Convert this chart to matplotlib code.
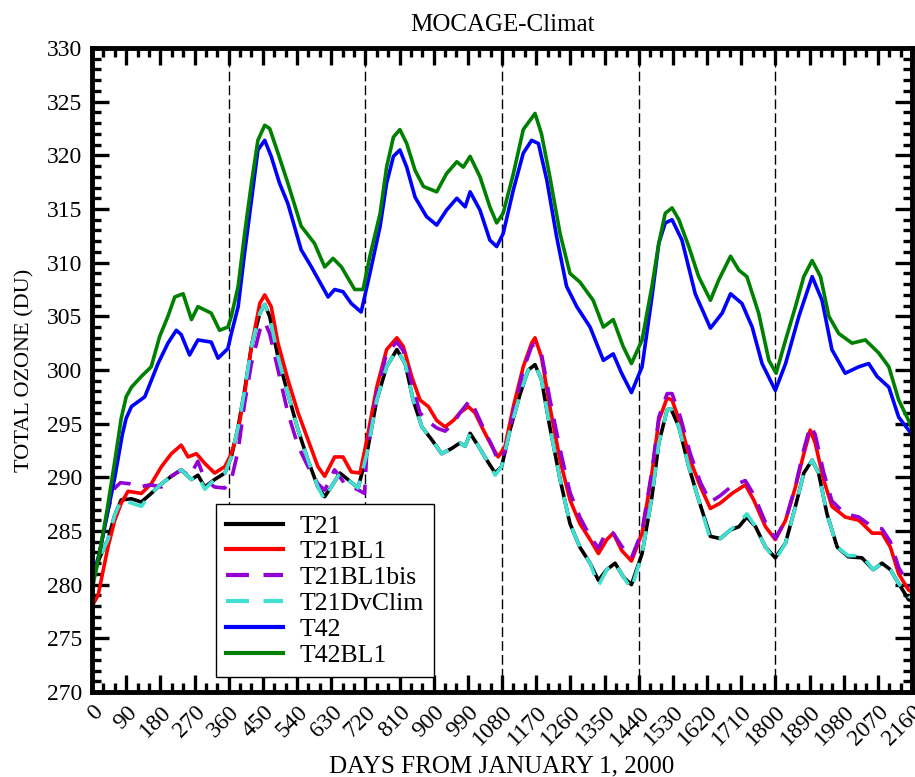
import matplotlib
matplotlib.use("Agg")
from matplotlib import pyplot as plt
from matplotlib.ticker import MultipleLocator

plt.rcParams['font.family'] = ['Liberation Serif', 'DejaVu Serif']

# T42BL1 (vert)
t42bl1_days = [0, 20, 40, 60, 77, 90, 104, 130, 156, 178, 200, 218, 240, 262, 279, 314, 336, 358, 367, 385,
               402, 420, 437, 455, 468, 490, 516, 551, 586, 613, 635, 657, 692, 714, 732, 759, 776, 794, 811,
               829, 851, 873, 908, 934, 961, 978, 996, 1022, 1048, 1066, 1083, 1110, 1136, 1167, 1184, 1206,
               1233, 1259, 1285, 1320, 1347, 1373, 1399, 1421, 1449, 1475, 1493, 1510, 1528, 1546, 1572, 1598,
               1629, 1651, 1682, 1704, 1725, 1756, 1783, 1802, 1827, 1853, 1875, 1897, 1919, 1941, 1967, 2002,
               2037, 2072, 2099, 2125, 2151, 2160]
t42bl1_vals = [279.5, 283.0, 287.0, 291.5, 295.5, 297.5, 298.4, 299.4, 300.3, 303.1, 305.0, 306.8, 307.1, 304.7,
               305.9, 305.3, 303.7, 304.0, 305.0, 307.8, 312.7, 317.4, 321.4, 322.8, 322.5, 320.2, 317.4, 313.4,
               311.8, 309.6, 310.4, 309.6, 307.5, 307.5, 310.6, 314.6, 318.9, 321.7, 322.4, 321.1, 318.6, 317.1,
               316.6, 318.3, 319.4, 318.9, 319.9, 318.0, 315.2, 313.7, 314.6, 318.3, 322.4, 323.9, 322.0, 318.0,
               312.7, 309.0, 308.2, 306.5, 304.0, 304.7, 302.2, 300.6, 302.8, 307.8, 311.8, 314.6, 315.1, 314.0,
               311.5, 308.7, 306.5, 308.4, 310.6, 309.3, 308.7, 305.3, 300.9, 299.7, 302.8, 305.9, 308.7, 310.2,
               308.7, 305.0, 303.4, 302.5, 302.8, 301.6, 300.3, 297.2, 295.3, 294.5]

# T42 (bleu)
t42_days = [0, 20, 40, 60, 80, 90, 104, 139, 174, 200, 222, 235, 257, 279, 314, 332, 358, 367, 385, 402, 420,
            437, 455, 472, 494, 516, 551, 578, 622, 639, 661, 683, 709, 732, 759, 776, 794, 811, 829, 851, 881,
            908, 934, 961, 983, 996, 1022, 1048, 1066, 1083, 1110, 1136, 1158, 1176, 1198, 1224, 1250, 1277,
            1312, 1347, 1373, 1395, 1421, 1449, 1475, 1493, 1510, 1528, 1554, 1589, 1629, 1660, 1682, 1712,
            1739, 1765, 1800, 1827, 1862, 1897, 1923, 1949, 1984, 2020, 2046, 2068, 2099, 2125, 2151, 2160]
t42_vals = [280.5, 283.0, 286.5, 290.0, 294.0, 295.5, 296.6, 297.5, 300.6, 302.5, 303.7, 303.3, 301.4, 302.8,
            302.6, 301.1, 302.0, 303.4, 305.9, 310.9, 315.8, 320.5, 321.4, 319.9, 317.4, 315.5, 311.2, 309.6,
            306.8, 307.5, 307.3, 306.2, 305.4, 309.0, 313.4, 317.4, 319.9, 320.5, 318.9, 316.1, 314.3, 313.5,
            314.9, 316.0, 315.2, 316.6, 314.9, 312.1, 311.5, 312.7, 316.8, 320.2, 321.4, 321.1, 317.7, 312.4,
            307.8, 305.9, 304.0, 300.9, 301.5, 299.7, 297.9, 300.3, 306.8, 311.8, 313.7, 314.0, 312.1, 307.1,
            303.9, 305.3, 307.1, 306.2, 304.0, 300.6, 298.1, 300.6, 305.0, 308.7, 306.5, 301.9, 299.7, 300.3,
            300.6, 299.4, 298.4, 295.6, 294.4, 294.0]

# T21BL1 (rouge)
t21bl1_days = [0, 16, 42, 60, 77, 95, 130, 156, 183, 209, 235, 253, 275, 297, 323, 350, 367, 385, 402, 420, 442,
               455, 472, 490, 516, 543, 569, 595, 613, 639, 661, 683, 706, 724, 750, 776, 803, 820, 842, 864, 886,
               908, 930, 952, 969, 991, 1009, 1031, 1053, 1070, 1088, 1110, 1136, 1158, 1167, 1184, 1206, 1233,
               1259, 1285, 1312, 1334, 1356, 1373, 1395, 1421, 1449, 1475, 1493, 1515, 1528, 1550, 1576, 1603,
               1629, 1655, 1686, 1721, 1743, 1774, 1800, 1827, 1853, 1875, 1892, 1905, 1927, 1949, 1984, 2020,
               2055, 2081, 2103, 2125, 2151, 2160]
t21bl1_vals = [278.0, 279.0, 283.5, 286.0, 287.6, 288.7, 288.5, 289.4, 291.0, 292.2, 293.0, 291.9, 292.2, 291.3,
               290.4, 291.0, 292.2, 294.4, 297.8, 302.2, 306.2, 307.0, 305.9, 302.5, 299.1, 296.0, 293.5, 291.0,
               290.1, 291.9, 291.9, 290.5, 290.4, 293.5, 298.4, 301.9, 303.0, 302.2, 299.4, 297.2, 296.6, 295.3,
               294.7, 295.3, 296.0, 296.6, 296.0, 294.4, 292.9, 291.9, 292.9, 296.6, 300.3, 302.5, 303.0, 301.2,
               296.6, 291.6, 287.9, 285.7, 284.2, 282.9, 284.2, 284.8, 283.2, 282.2, 284.8, 290.4, 295.3, 297.4,
               297.2, 295.0, 291.6, 289.1, 287.1, 287.6, 288.5, 289.3, 287.9, 285.4, 284.2, 286.0, 289.1, 292.2,
               294.4, 293.2, 289.8, 287.3, 286.3, 286.0, 284.8, 284.8, 283.5, 281.0, 279.5, 279.3]

# T21BL1bis (violet)
t21bl1bis_days = [0, 20, 42, 60, 75, 99, 126, 152, 183, 209, 235, 257, 279, 297, 323, 350, 367, 385, 402, 420,
                  442, 455, 468, 490, 516, 543, 569, 595, 613, 639, 666, 692, 718, 724, 750, 776, 803, 820, 842,
                  864, 886, 908, 930, 952, 969, 996, 1009, 1031, 1053, 1070, 1088, 1110, 1136, 1158, 1167, 1184,
                  1206, 1233, 1259, 1285, 1312, 1334, 1356, 1373, 1395, 1421, 1449, 1475, 1493, 1515, 1528, 1550,
                  1576, 1603, 1629, 1655, 1686, 1721, 1743, 1774, 1800, 1827, 1853, 1875, 1892, 1905, 1927, 1949,
                  1984, 2020, 2055, 2081, 2103, 2125, 2151, 2160]
t21bl1bis_vals = [280.0, 283.0, 287.0, 289.0, 289.5, 289.4, 289.1, 289.3, 289.1, 290.1, 290.7, 290.1, 291.5,
                  289.8, 289.1, 289.0, 289.8, 292.5, 296.9, 300.6, 303.7, 304.5, 303.4, 300.0, 296.0, 292.9, 291.0,
                  289.4, 288.8, 290.7, 289.4, 289.0, 288.5, 292.5, 297.8, 301.6, 302.6, 301.8, 298.8, 296.0, 295.2,
                  294.6, 294.3, 295.0, 296.0, 297.2, 296.3, 294.6, 293.0, 291.5, 292.4, 296.0, 300.0, 302.2, 302.4,
                  301.5, 297.3, 292.6, 288.6, 286.3, 284.5, 283.4, 285.0, 284.8, 283.6, 282.5, 285.0, 290.6, 295.6,
                  297.8, 297.8, 295.6, 292.2, 289.5, 287.7, 288.3, 289.2, 289.7, 288.4, 285.8, 284.3, 286.0, 289.2,
                  292.6, 294.8, 294.0, 290.5, 287.8, 286.6, 286.3, 285.4, 285.2, 284.0, 281.6, 280.0, 279.8]

# T21 (noir)
t21_days = [0, 20, 42, 60, 77, 104, 130, 156, 183, 209, 235, 262, 279, 297, 323, 350, 367, 385, 402, 420, 442,
            455, 468, 490, 516, 543, 569, 595, 613, 630, 653, 674, 701, 724, 750, 776, 803, 825, 846, 869, 895,
            921, 948, 969, 983, 996, 1018, 1040, 1062, 1079, 1101, 1128, 1149, 1167, 1184, 1206, 1233, 1259,
            1285, 1312, 1334, 1356, 1378, 1400, 1421, 1449, 1475, 1493, 1515, 1525, 1546, 1572, 1598, 1629,
            1655, 1682, 1704, 1725, 1748, 1774, 1800, 1827, 1853, 1875, 1897, 1914, 1936, 1963, 1992, 2028,
            2058, 2081, 2103, 2125, 2151, 2160]
t21_vals = [280.5, 282.5, 284.2, 286.5, 287.9, 288.0, 287.7, 288.5, 289.4, 290.1, 290.7, 289.8, 290.2, 289.1,
            289.8, 290.4, 291.9, 294.7, 298.1, 302.2, 305.3, 306.1, 305.0, 301.2, 297.8, 294.4, 291.6, 289.1,
            288.2, 289.1, 290.4, 289.8, 289.0, 292.2, 297.2, 300.3, 301.9, 300.6, 297.2, 294.7, 293.5, 292.2,
            292.7, 293.2, 292.9, 294.1, 292.9, 291.6, 290.4, 291.0, 294.4, 297.8, 300.0, 300.5, 299.1, 294.7,
            289.8, 285.7, 283.5, 282.0, 280.4, 281.4, 282.0, 280.7, 280.0, 282.9, 288.2, 293.2, 296.3, 296.4,
            294.7, 291.0, 287.9, 284.5, 284.3, 285.1, 285.4, 286.3, 285.4, 283.5, 282.5, 283.9, 287.3, 290.4,
            291.6, 290.4, 286.6, 283.5, 282.6, 282.5, 281.4, 282.0, 281.4, 280.1, 278.6, 278.5]

# T21DvClim (turquoise)
t21dvclim_days = list(t21_days)
t21dvclim_vals = [280.0, 282.5, 284.2, 286.5, 287.9, 287.6, 287.3, 288.5, 289.4, 290.1, 290.7, 289.8, 290.2,
                  288.9, 289.8, 290.4, 291.9, 294.7, 298.1, 302.2, 305.3, 306.1, 305.0, 301.2, 297.8, 294.4,
                  291.6, 289.1, 287.9, 289.1, 290.4, 289.8, 289.0, 292.2, 297.2, 300.3, 301.9, 300.6, 297.2,
                  294.7, 293.5, 292.2, 292.7, 293.2, 292.9, 294.1, 292.9, 291.6, 290.2, 291.0, 294.4, 297.8,
                  300.0, 300.5, 299.1, 294.7, 289.8, 285.7, 283.5, 282.0, 279.9, 281.4, 282.0, 280.7, 279.6,
                  282.9, 288.2, 293.2, 296.3, 296.4, 294.7, 291.0, 287.9, 284.2, 284.3, 285.1, 285.8, 286.6,
                  285.4, 283.5, 282.3, 283.9, 287.3, 290.4, 291.6, 290.4, 286.6, 283.5, 282.7, 282.7, 281.4,
                  282.0, 281.4, 280.1, 278.9, 278.8]

year_marks = [360, 720, 1080, 1440, 1800]

series = [
    ('T21', t21_days, t21_vals, 'black', '-'),
    ('T21BL1', t21bl1_days, t21bl1_vals, 'red', '-'),
    ('T21BL1bis', t21bl1bis_days, t21bl1bis_vals, 'darkviolet', (0, (5.5, 3.5))),
    ('T21DvClim', t21dvclim_days, t21dvclim_vals, 'turquoise', (0, (5.5, 3.5))),
    ('T42', t42_days, t42_vals, 'blue', '-'),
    ('T42BL1', t42bl1_days, t42bl1_vals, 'green', '-'),
]

fig = plt.figure(figsize=(9.15, 7.77), dpi=100)
ax = fig.add_axes([92 / 915, 85 / 777, 820 / 915, 644 / 777])

for x in year_marks:
    ax.axvline(x, color='black', lw=1.0, ls=(0, (7, 3)), zorder=1)

for name, d, v, c, ls in series:
    ax.plot(d, v, color=c, lw=2.6, ls=ls, label=name, zorder=2)

ax.set_xlim(0, 2160)
ax.set_ylim(270, 330)
ax.xaxis.set_major_locator(MultipleLocator(90))
ax.xaxis.set_minor_locator(MultipleLocator(30))
ax.yaxis.set_major_locator(MultipleLocator(5))
ax.yaxis.set_minor_locator(MultipleLocator(1))
ax.tick_params(which='both', direction='in', top=True, right=True, width=2.4)
ax.tick_params(which='major', length=12, labelsize=17, pad=7)
ax.tick_params(which='minor', length=6.5)
for s in ax.spines.values():
    s.set_linewidth(3.5)
plt.setp(ax.get_xticklabels(), rotation=45, ha='right', rotation_mode='anchor')

ax.set_title('MOCAGE-Climat', fontsize=18, pad=12)
ax.set_xlabel('DAYS FROM JANUARY 1, 2000', fontsize=18)
ax.set_ylabel('TOTAL OZONE (DU)', fontsize=16)
ax.xaxis.set_label_coords(0.5, -0.098)
ax.yaxis.set_label_coords(-0.07, 0.5)

leg = ax.legend(loc='lower left', bbox_to_anchor=(0.151, 0.0233), borderaxespad=0, fontsize=18.5,
                labelspacing=0.11, handlelength=2.2, handletextpad=0.65, fancybox=False, framealpha=1,
                edgecolor='black', borderpad=0.4)
leg.get_frame().set_linewidth(1.0)
for line in leg.get_lines():
    line.set_linewidth(3.0)

plt.savefig('out.png', dpi=100)
